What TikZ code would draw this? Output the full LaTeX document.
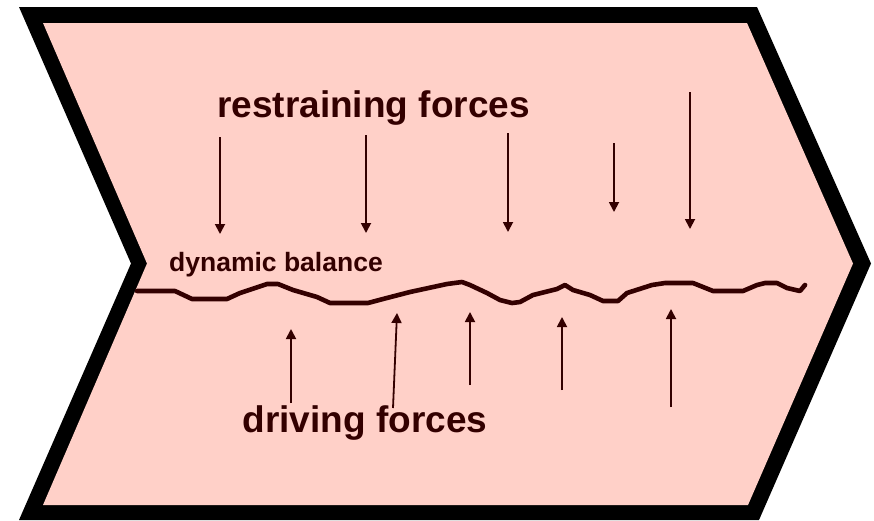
\documentclass[tikz,border=0pt]{standalone}
\usepackage{fontspec}
\setmainfont{Liberation Sans}
\usetikzlibrary{arrows.meta}
\definecolor{pinkfill}{RGB}{255,208,200}
\definecolor{brownline}{RGB}{51,0,0}
\begin{document}
\begin{tikzpicture}[x=1pt,y=-1pt,
  force/.style={draw=brownline, line width=1.8pt, -{Triangle[length=10pt,width=10pt]}},
  bigtext/.style={font=\fontsize{37}{44}\selectfont\bfseries, text=brownline, inner sep=0pt, anchor=base},
  smalltext/.style={font=\fontsize{26.5}{32}\selectfont\bfseries, text=brownline, inner sep=0pt, anchor=base west},
  balance/.style={draw=brownline, line width=4.6pt, line join=round, line cap=round}]
\useasboundingbox (0,0) rectangle (874,520);
% chevron
\fill[black] (19,7) -- (757,7) -- (871,263.5) -- (759,520) -- (19,520) -- (131,263.5) -- cycle;
\fill[pinkfill] (43,23) -- (747,23) -- (853,263.5) -- (748,505) -- (43,505) -- (147,263.5) -- cycle;
% texts
\node[bigtext] (restr) at (373.5,117) {restraining forces};
\node[bigtext] (driv) at (365,432) {driving forces};
\node[smalltext] (dyn) at (169,271) {dynamic balance};
% balance line
\draw[balance] (137,291) -- (175,291) -- (192,299) -- (227,299) -- (240,293) -- (267,284) -- (278,284)
  -- (293,290) -- (317,297) -- (330,303) -- (368,303) -- (383,299) -- (410,292) -- (447,284)
  -- (462,282) -- (470,285) -- (487,293) -- (500,300) -- (512,303) -- (520,302) -- (533,295)
  -- (557,289) -- (565,285) -- (573,290) -- (590,295) -- (603,301) -- (618,301) -- (627,293)
  -- (652,285) -- (665,283) -- (693,283) -- (713,291) -- (743,291) -- (757,285) -- (765,283)
  -- (777,283) -- (787,288) -- (800,291) -- (805,285);
% restraining arrows
\coordinate (r1a) at (220,137); \coordinate (r1b) at (220,234);
\coordinate (r2a) at (366,135); \coordinate (r2b) at (366,233);
\coordinate (r3a) at (508,133); \coordinate (r3b) at (508,232);
\coordinate (r4a) at (614,143); \coordinate (r4b) at (614,212);
\coordinate (r5a) at (690,92);  \coordinate (r5b) at (690,229);
\foreach \i in {1,...,5} \draw[force] (r\i a) -- (r\i b);
% driving arrows
\coordinate (d1a) at (291,403); \coordinate (d1b) at (291,329);
\coordinate (d2a) at (393,408); \coordinate (d2b) at (397,313);
\coordinate (d3a) at (470,385); \coordinate (d3b) at (470,312);
\coordinate (d4a) at (562,390); \coordinate (d4b) at (562,317);
\coordinate (d5a) at (671,407); \coordinate (d5b) at (671,309);
\foreach \i in {1,...,5} \draw[force] (d\i a) -- (d\i b);
\end{tikzpicture}
\end{document}
